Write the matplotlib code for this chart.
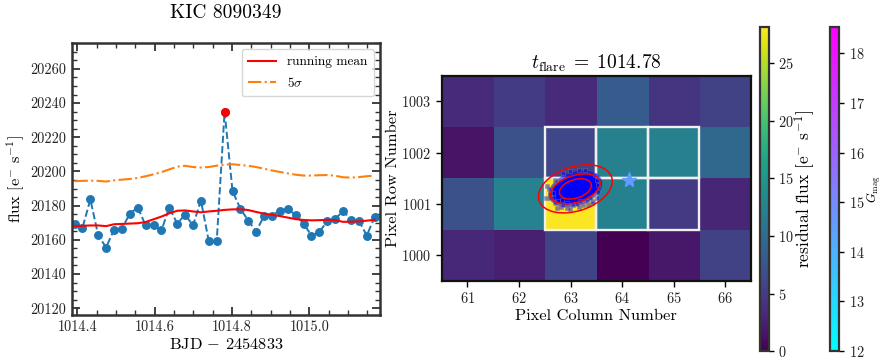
import matplotlib
matplotlib.use('Agg')
import matplotlib.pyplot as plt
from matplotlib.patches import Ellipse, Rectangle
from matplotlib.colors import Normalize
from matplotlib.cm import ScalarMappable
from matplotlib.ticker import MultipleLocator, FormatStrFormatter

plt.rcParams['font.family'] = 'serif'
plt.rcParams['font.serif'] = ['cmr10', 'DejaVu Serif']
plt.rcParams['mathtext.fontset'] = 'cm'
plt.rcParams['axes.formatter.use_mathtext'] = True
plt.rcParams['axes.unicode_minus'] = False

# ---------------- data: light curve ----------------
time = [1014.3928, 1014.4132, 1014.4337, 1014.4541, 1014.4745, 1014.4950, 1014.5154,
        1014.5358, 1014.5563, 1014.5767, 1014.5971, 1014.6176, 1014.6380, 1014.6584,
        1014.6789, 1014.6993, 1014.7197, 1014.7402, 1014.7606, 1014.7810, 1014.8015,
        1014.8219, 1014.8423, 1014.8628, 1014.8832, 1014.9036, 1014.9241, 1014.9445,
        1014.9649, 1014.9854, 1015.0058, 1015.0262, 1015.0467, 1015.0671, 1015.0875,
        1015.1080, 1015.1284, 1015.1488, 1015.1693]
flux = [20169.3, 20166.9, 20183.6, 20162.6, 20155.5, 20166.0, 20166.6, 20175.3, 20178.9,
        20168.5, 20168.5, 20165.5, 20178.9, 20169.5, 20174.7, 20168.4, 20183.0, 20159.1,
        20159.1, 20235.0, 20188.6, 20178.1, 20171.3, 20164.8, 20174.2, 20174.2, 20177.1,
        20178.2, 20174.4, 20169.5, 20162.5, 20164.4, 20171.2, 20172.2, 20176.9, 20171.8,
        20171.2, 20162.5, 20173.5]
running_mean = [20168.1, 20168.2, 20168.4, 20168.4, 20168.0, 20169.1, 20169.3, 20169.5,
                20169.7, 20170.4, 20172.0, 20173.6, 20175.5, 20177.0, 20177.2, 20176.6,
                20176.1, 20176.6, 20177.0, 20177.5, 20177.8, 20177.9, 20177.4, 20176.3,
                20175.3, 20174.6, 20173.9, 20173.0, 20172.1, 20171.6, 20171.4, 20171.5,
                20171.7, 20171.5, 20170.5, 20170.6, 20170.8, 20171.2, 20171.7]
five_sigma = [20194.3, 20194.5, 20194.6, 20194.5, 20194.1, 20194.8, 20195.2, 20195.6,
              20196.2, 20197.2, 20198.3, 20199.6, 20201.2, 20202.8, 20203.3, 20202.6,
              20202.3, 20202.6, 20203.4, 20204.0, 20204.2, 20203.8, 20203.3, 20202.6,
              20201.6, 20200.6, 20199.7, 20198.9, 20198.1, 20197.6, 20197.6, 20197.8,
              20197.9, 20197.5, 20196.6, 20196.4, 20196.7, 20197.2, 20197.6]
flare_time = [1014.7810]
flare_flux = [20235.0]

# ---------------- data: pixel map ----------------
columns = [61, 62, 63, 64, 65, 66]
rows = [1000, 1001, 1002, 1003]
residual = [[3.2, 2.5, 5.8, 0.0, 1.8, 5.6],      # row 1000
            [7.0, 12.5, 28.0, 12.4, 4.8, 3.0],   # row 1001
            [1.5, 7.0, 6.0, 12.3, 12.3, 9.5],    # row 1002
            [3.5, 5.0, 3.5, 8.2, 4.2, 5.5]]      # row 1003
aperture_cols = [63, 64, 65, 63, 64, 65]
aperture_rows = [1002, 1002, 1002, 1001, 1001, 1001]

centroid_x, centroid_y = 63.093, 1001.295
ellipse_widths = [0.64, 1.00, 1.48]
ellipse_heights = [0.36, 0.52, 0.86]
ellipse_angle = 18
core_width, core_height = 1.00, 0.60

sample_x = [63.169, 63.286, 62.545, 62.584, 62.519, 62.597, 62.662, 62.695, 62.727, 62.805,
            62.857, 62.922, 62.987, 63.052, 63.169, 63.247, 63.345, 63.442, 63.507, 63.540,
            63.540, 63.507, 62.662, 62.760, 62.922, 63.117, 63.377, 63.475, 62.987, 62.857,
            62.695, 62.610, 62.825, 63.182, 63.312, 63.410]
sample_y = [1001.659, 1001.672, 1001.360, 1001.289, 1001.113, 1001.113, 1001.126, 1001.016,
            1000.919, 1000.951, 1000.984, 1000.919, 1000.906, 1000.984, 1000.951, 1000.984,
            1000.984, 1001.049, 1001.113, 1001.243, 1001.373, 1001.471, 1001.211, 1001.049,
            1001.016, 1000.997, 1001.113, 1001.568, 1001.646, 1001.601, 1001.471, 1001.191,
            1001.081, 1001.049, 1001.062, 1001.016]

star_col, star_row, star_gmag = 64.124, 1001.47, 14.6

resid_vmin, resid_vmax = 0.0, 28.2
gmag_vmin, gmag_vmax = 12.0, 18.54

# ---------------- figure ----------------
W, H = 883, 360
fig = plt.figure(figsize=(W / 100, H / 100), dpi=100)

def px(l, t, r, b):
    return [l / W, (H - b) / H, (r - l) / W, (b - t) / H]

spine_col = '#333333'
TICK = 10.3
LAB = 11.8

# left panel
ax1 = fig.add_axes(px(71.7, 43.3, 380, 315))
ax1.plot(time, flux, ls='--', marker='o', color='#1f77b4', ms=5.4, lw=1.4, zorder=2)
ax1.plot(flare_time, flare_flux, 'o', color='red', ms=5.4, zorder=4)
ax1.plot(time, running_mean, '-', color='red', lw=1.5, label='running mean', zorder=3)
ax1.plot(time, five_sigma, '-.', color='#ff7f0e', lw=1.5, label=r'5$\sigma$', zorder=3)
ax1.set_xlim(1014.3855, 1015.183)
ax1.set_ylim(20116, 20275)
ax1.xaxis.set_major_locator(MultipleLocator(0.2))
ax1.xaxis.set_minor_locator(MultipleLocator(0.05))
ax1.yaxis.set_major_locator(MultipleLocator(20))
ax1.yaxis.set_minor_locator(MultipleLocator(5))
ax1.xaxis.set_major_formatter(FormatStrFormatter('%.1f'))
ax1.yaxis.set_major_formatter(FormatStrFormatter('%d'))
ax1.tick_params(which='both', direction='in', top=True, right=True, labelsize=TICK,
                color=spine_col, labelcolor='#222222')
ax1.tick_params(which='major', length=6, width=1.3, pad=4)
ax1.tick_params(which='minor', length=3.5, width=1.0)
for s in ax1.spines.values():
    s.set_color(spine_col)
    s.set_linewidth(1.8)
ax1.set_xlabel(r'BJD $-$ 2454833', fontsize=LAB, labelpad=2)
ax1.set_ylabel(r'flux [e$^{-}$ s$^{-1}$]', fontsize=LAB, labelpad=2)
ax1.set_title('KIC 8090349', fontsize=14, pad=18)
ax1.legend(loc='upper right', fontsize=9.6, borderaxespad=0.45, handlelength=2.1,
           borderpad=0.5, labelspacing=0.55)

# right panel
ax2 = fig.add_axes(px(441.7, 75.7, 751, 281))
ax2.imshow(residual, origin='lower', cmap='viridis', vmin=resid_vmin, vmax=resid_vmax,
           extent=(columns[0] - 0.5, columns[-1] + 0.5, rows[0] - 0.5, rows[-1] + 0.5),
           aspect='auto', interpolation='nearest', zorder=1)
for c, r in zip(aperture_cols, aperture_rows):
    ax2.add_patch(Rectangle((c - 0.5, r - 0.5), 1, 1, fill=False, edgecolor='#f0f0f0',
                            lw=1.7, zorder=2))
ax2.add_patch(Ellipse((centroid_x, centroid_y), core_width * 1.08, core_height * 1.1,
                      angle=ellipse_angle, facecolor='blue', edgecolor='none', alpha=0.55,
                      zorder=3))
ax2.add_patch(Ellipse((centroid_x, centroid_y), core_width * 0.92, core_height * 0.92,
                      angle=ellipse_angle, facecolor='blue', edgecolor='none', zorder=3))
ax2.scatter(sample_x, sample_y, marker='s', s=10, facecolor='blue', edgecolor='gray',
            alpha=0.45, lw=0.6, zorder=3)
for w, h in zip(ellipse_widths, ellipse_heights):
    ax2.add_patch(Ellipse((centroid_x, centroid_y), w, h, angle=ellipse_angle,
                          fill=False, edgecolor='red', lw=1.1, zorder=4))
gnorm = Normalize(gmag_vmin, gmag_vmax)
ax2.plot([star_col], [star_row], marker='*', ms=11, ls='none',
         color=plt.get_cmap('cool')(gnorm(star_gmag)), zorder=5)
ax2.set_xlim(columns[0] - 0.5, columns[-1] + 0.5)
ax2.set_ylim(rows[0] - 0.5, rows[-1] + 0.5)
ax2.set_xticks(columns)
ax2.set_yticks(rows)
ax2.tick_params(direction='out', labelsize=TICK, length=4, width=1, labelcolor='#222222')
for s in ax2.spines.values():
    s.set_color('#111111')
    s.set_linewidth(1.6)
ax2.set_xlabel('Pixel Column Number', fontsize=LAB, labelpad=2)
ax2.set_ylabel('Pixel Row Number', fontsize=LAB, labelpad=1)
ax2.set_title(r'$t_{\rm flare}\;=\;1014.78$', fontsize=14, pad=5)

# colorbars
cax1 = fig.add_axes(px(759.5, 26.7, 768.5, 351))
cb1 = fig.colorbar(ScalarMappable(Normalize(resid_vmin, resid_vmax), 'viridis'), cax=cax1)
cb1.set_ticks([0, 5, 10, 15, 20, 25])
cb1.ax.tick_params(labelsize=TICK, length=3.5, width=1, labelcolor='#222222')
cb1.outline.set_linewidth(1.6)
cb1.outline.set_edgecolor(spine_col)
cb1.set_label(r'residual flux [e$^{-}$ s$^{-1}$]', fontsize=12.5, labelpad=-1)

cax2 = fig.add_axes(px(829.5, 26.7, 839, 351))
cb2 = fig.colorbar(ScalarMappable(gnorm, 'cool'), cax=cax2)
cb2.set_ticks([12, 13, 14, 15, 16, 17, 18])
cb2.ax.tick_params(labelsize=TICK, length=3.5, width=1, labelcolor='#222222')
cb2.outline.set_linewidth(1.6)
cb2.outline.set_edgecolor(spine_col)
cb2.set_label(r'$G_{\rm mag}$', fontsize=9, labelpad=0)

fig.savefig('out.png', dpi=100)
